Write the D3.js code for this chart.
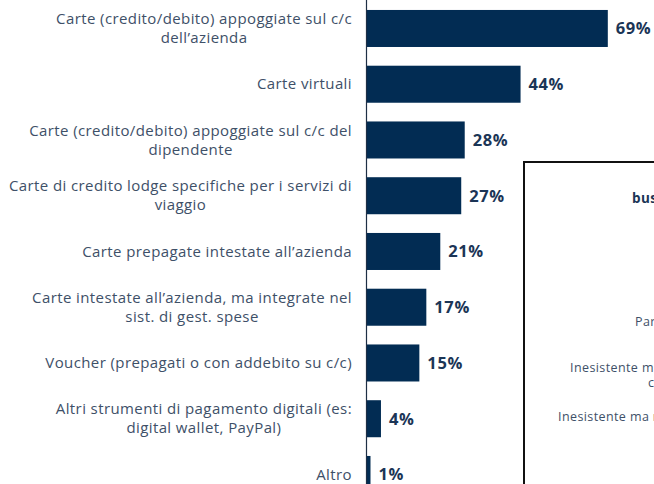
<!DOCTYPE html>
<html>
<head>
<meta charset="utf-8">
<script src="https://cdn.jsdelivr.net/npm/d3@7"></script>
<style>
  html, body { margin: 0; padding: 0; background: #fff; overflow: hidden; }
  svg { display: block; }
</style>
</head>
<body>
<div id="chart"></div>
<script>
// categories, one entry per line of the label
var categories = [
  ["Carte (credito/debito) appoggiate sul c/c", "dell\u2019azienda"],
  ["Carte virtuali"],
  ["Carte (credito/debito) appoggiate sul c/c del", "dipendente"],
  ["Carte di credito lodge specifiche per i servizi di", "viaggio"],
  ["Carte prepagate intestate all\u2019azienda"],
  ["Carte intestate all\u2019azienda, ma integrate nel", "sist. di gest. spese"],
  ["Voucher (prepagati o con addebito su c/c)"],
  ["Altri strumenti di pagamento digitali (es:", "digital wallet, PayPal)"],
  ["Altro"]
];
var values = [69, 44, 28, 27, 21, 17, 15, 4, 1];

// the cut-off panel on the right
var panelTitle = "business travel";
var panelLabels = ["Parziale", "Inesistente ma in programma", "Inesistente ma non in programma"];

var width = 654, height = 484;

var svg = d3.select("#chart").append("svg")
  .attr("width", width)
  .attr("height", height);

var x = d3.scaleLinear()
  .domain([0, 100])
  .range([367, 716]);

var y = d3.scaleBand()
  .domain(d3.range(categories.length))
  .range([0.6, 502.35])
  .paddingInner(0.336)
  .paddingOuter(0.168);

// bars
svg.selectAll("rect.bar")
  .data(values)
  .enter().append("rect")
  .attr("class", "bar")
  .attr("x", x(0))
  .attr("y", function (d, i) { return y(i); })
  .attr("width", function (d) { return x(d) - x(0); })
  .attr("height", y.bandwidth())
  .attr("fill", "#022c53");

// vertical axis line
svg.append("line")
  .attr("x1", 366.5).attr("x2", 366.5)
  .attr("y1", 0).attr("y2", height)
  .attr("stroke", "#1e2f45")
  .attr("stroke-width", 1.2);

// value labels
svg.selectAll("text.val")
  .data(values)
  .enter().append("text")
  .attr("class", "val")
  .attr("x", function (d) { return x(d) + 8; })
  .attr("y", function (d, i) { return y(i) + y.bandwidth() / 2; })
  .attr("dy", "0.36em")
  .attr("font-family", "'Open Sans', sans-serif")
  .attr("font-weight", 700)
  .attr("font-size", "16.5px")
  .attr("letter-spacing", "0.6px")
  .attr("fill", "#1b3556")
  .text(function (d) { return d + "%"; });

// category labels: block right-aligned, lines centred inside the block
var labelRight = 352, lineH = 19;
categories.forEach(function (lines, i) {
  var g = svg.append("g");
  var cy = y(i) + y.bandwidth() / 2;
  var texts = lines.map(function (line, j) {
    return g.append("text")
      .attr("y", cy + (j - (lines.length - 1) / 2) * lineH)
      .attr("dy", "0.35em")
      .attr("text-anchor", "middle")
      .attr("font-family", "'Open Sans', sans-serif")
      .attr("font-size", "15px")
      .attr("letter-spacing", "0.4px")
      .attr("fill", "#3e5068")
      .text(line);
  });
  var maxW = d3.max(texts, function (t) { return t.node().getComputedTextLength(); });
  texts.forEach(function (t) { t.attr("x", labelRight - maxW / 2); });
});

// right panel (cropped)
svg.append("rect")
  .attr("x", 524).attr("y", 162)
  .attr("width", 300).attr("height", 400)
  .attr("fill", "none")
  .attr("stroke", "#111")
  .attr("stroke-width", 2);

svg.append("text")
  .attr("x", 632).attr("y", 198)
  .attr("dy", "0.35em")
  .attr("font-family", "'Open Sans', sans-serif")
  .attr("font-weight", 700)
  .attr("font-size", "13.5px")
  .attr("letter-spacing", "0.4px")
  .attr("fill", "#1b3556")
  .text(panelTitle);

var panelPos = [[635, 322], [570, 368], [558, 417]];
panelLabels.forEach(function (t, i) {
  svg.append("text")
    .attr("x", panelPos[i][0]).attr("y", panelPos[i][1])
    .attr("dy", "0.35em")
    .attr("font-family", "'Open Sans', sans-serif")
    .attr("font-size", "12.5px")
    .attr("letter-spacing", "0.4px")
    .attr("fill", "#3e5068")
    .text(t);
});
svg.append("text")
  .attr("x", 648).attr("y", 383)
  .attr("dy", "0.35em")
  .attr("font-family", "'Open Sans', sans-serif")
  .attr("font-size", "12.5px")
  .attr("letter-spacing", "0.4px")
  .attr("fill", "#3e5068")
  .text("corso");
</script>
</body>
</html>
